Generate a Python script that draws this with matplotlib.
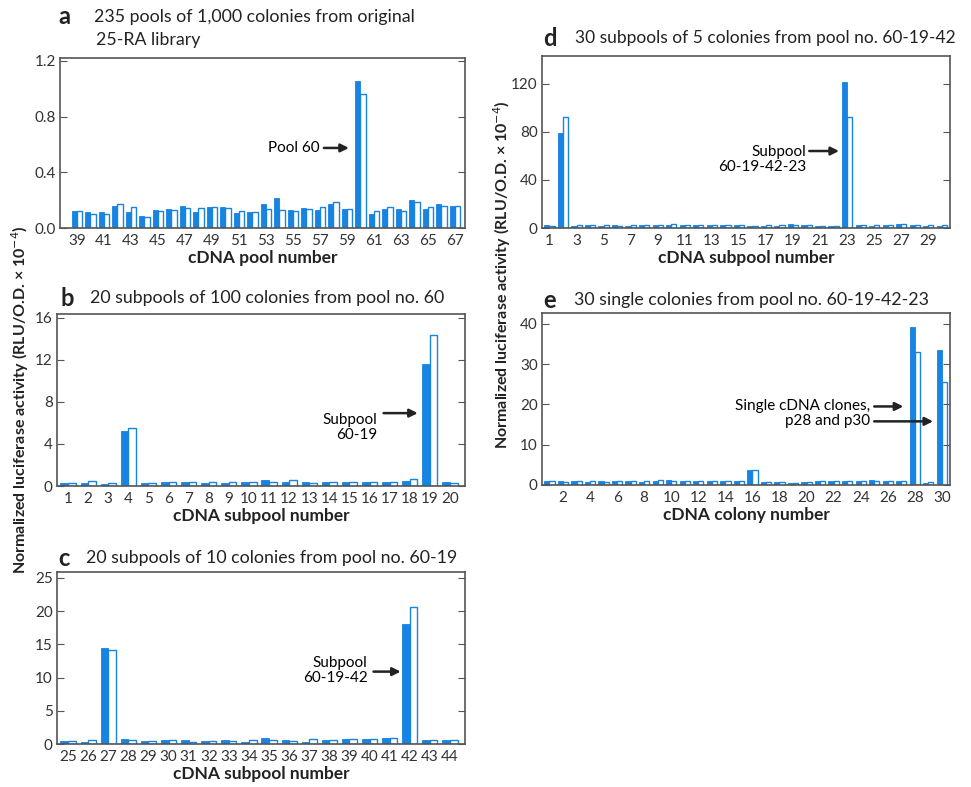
import numpy as np
import matplotlib
matplotlib.use('Agg')
import matplotlib.pyplot as plt

plt.rcParams['font.family'] = ['Lato', 'DejaVu Sans']

W, H = 971, 787
BLUE = '#1684e0'
SPINE = '#555555'

# ---- data (filled bar = first assay, open bar = repeat) ----
a_pools = list(range(39, 68))
a_filled = [0.125, 0.115, 0.115, 0.155, 0.115, 0.087, 0.13, 0.14, 0.155, 0.115,
            0.15, 0.15, 0.11, 0.115, 0.175, 0.215, 0.13, 0.145, 0.13, 0.175,
            0.14, 1.055, 0.10, 0.14, 0.14, 0.20, 0.135, 0.17, 0.155]
a_open = [0.12, 0.10, 0.10, 0.17, 0.15, 0.08, 0.125, 0.13, 0.145, 0.145,
          0.15, 0.145, 0.12, 0.115, 0.14, 0.13, 0.125, 0.135, 0.15, 0.19,
          0.135, 0.964, 0.12, 0.15, 0.12, 0.19, 0.15, 0.16, 0.155]

b_pools = list(range(1, 21))
b_filled = [0.3, 0.3, 0.2, 5.2, 0.3, 0.38, 0.38, 0.25, 0.25, 0.38,
            0.57, 0.38, 0.38, 0.38, 0.38, 0.38, 0.38, 0.45, 11.65, 0.38]
b_open = [0.3, 0.5, 0.3, 5.55, 0.3, 0.38, 0.38, 0.38, 0.38, 0.38,
          0.38, 0.57, 0.3, 0.38, 0.38, 0.38, 0.38, 0.64, 14.4, 0.3]

c_pools = list(range(25, 45))
c_filled = [0.5, 0.35, 14.5, 0.75, 0.45, 0.65, 0.65, 0.45, 0.55, 0.35,
            0.85, 0.65, 0.35, 0.65, 0.75, 0.75, 0.85, 18.1, 0.65, 0.65]
c_open = [0.45, 0.65, 14.2, 0.65, 0.45, 0.65, 0.35, 0.45, 0.45, 0.65,
          0.65, 0.45, 0.75, 0.65, 0.75, 0.75, 0.85, 20.7, 0.65, 0.65]

d_pools = list(range(1, 31))
d_filled = [2.2, 79, 1.8, 2.2, 2.0, 2.2, 1.8, 2.2, 2.4, 2.2,
            2.4, 2.2, 2.6, 2.2, 2.4, 2.0, 1.8, 2.0, 3.0, 2.2,
            2.0, 2.0, 121, 2.2, 2.0, 2.2, 3.6, 2.2, 2.0, 2.0]
d_open = [2.0, 92, 2.2, 2.4, 2.2, 2.0, 2.4, 2.2, 2.6, 3.6,
          2.2, 2.4, 2.4, 2.6, 2.6, 2.0, 2.2, 2.4, 2.6, 2.2,
          2.0, 2.0, 92, 2.2, 2.2, 2.4, 3.0, 2.4, 2.2, 2.2]

e_colonies = list(range(1, 31))
e_filled = [0.9, 0.9, 0.9, 0.8, 0.9, 0.9, 0.9, 0.8, 1.0, 1.2,
            1.0, 1.0, 1.1, 0.9, 0.9, 3.6, 0.7, 0.7, 0.6, 0.8,
            0.9, 0.9, 0.9, 1.1, 1.2, 0.9, 0.9, 39.2, 0.6, 33.6]
e_open = [0.9, 0.8, 0.9, 0.9, 0.8, 0.9, 0.9, 0.9, 1.3, 1.1,
          1.0, 1.0, 1.1, 1.0, 0.9, 3.6, 0.7, 0.7, 0.6, 0.8,
          0.9, 0.9, 0.9, 1.1, 1.1, 0.9, 1.0, 32.9, 0.8, 25.6]

fig = plt.figure(figsize=(W / 100, H / 100), dpi=100)


def add_ax(left, top, right, bottom):
    # axes box given in pixel coords of the reference
    return fig.add_axes([left / W, 1 - bottom / H, (right - left) / W, (bottom - top) / H])


def bar_panel(ax, x, filled, opened, xlim, ylim, yticks, ylabels, xtick_vals, xlabel):
    x = np.array(x, dtype=float)
    w = 0.38
    ax.bar(x - w / 2, filled, w, color=BLUE, edgecolor=BLUE, linewidth=0.6)
    ax.bar(x + w / 2, opened, w, color='white', edgecolor=BLUE, linewidth=1.0)
    ax.set_xlim(*xlim)
    ax.set_ylim(*ylim)
    ax.set_yticks(yticks)
    ax.set_yticklabels(ylabels)
    ax.set_xticks(xtick_vals)
    ax.set_xticklabels([str(v) for v in xtick_vals])
    ax.tick_params(axis='y', direction='in', length=5, width=0.8, color=SPINE,
                   right=True, labelsize=11, pad=3, labelcolor='#333333')
    ax.tick_params(axis='x', length=0, labelsize=11, pad=4, labelcolor='#333333')
    for s in ax.spines.values():
        s.set_color(SPINE)
        s.set_linewidth(1.2)
    ax.set_xlabel(xlabel, fontsize=12.5, fontweight='bold', labelpad=2, color='#222222')


def panel_title(letter, text, x_letter, x_text, y, size=12.8):
    fig.text(x_letter / W, 1 - y / H, letter, fontsize=17, fontweight='bold',
             va='center', color='#222222')
    fig.text(x_text / W, 1 - y / H, text, fontsize=size, va='center', color='#222222')


def arrow(ax, x0, x1, y):
    ax.annotate('', xy=(x1, y), xytext=(x0, y),
                arrowprops=dict(arrowstyle='-|>', color='#222222', lw=1.8,
                                mutation_scale=12, shrinkA=0, shrinkB=0))


# a
ax = add_ax(60, 58, 465, 228)
bar_panel(ax, a_pools, a_filled, a_open, (37.75, 67.75), (0, 1.221),
          [0, 0.4, 0.8, 1.2], ['0.0', '0.4', '0.8', '1.2'],
          list(range(39, 68, 2)), 'cDNA pool number')
ax.text(57.0, 0.575, 'Pool 60', ha='right', va='center', fontsize=11)
arrow(ax, 57.3, 59.15, 0.575)
panel_title('a', '235 pools of 1,000 colonies from original', 58, 94, 17)
fig.text(96 / W, 1 - 40 / H, '25-RA library', fontsize=12.8, va='center', color='#222222')

# b
ax = add_ax(57, 314, 465, 486)
bar_panel(ax, b_pools, b_filled, b_open, (0.45, 20.75), (0, 16.38),
          [0, 4, 8, 12, 16], ['0', '4', '8', '12', '16'],
          b_pools, 'cDNA subpool number')
ax.text(16.4, 6.94, 'Subpool\n60-19', ha='right', va='top', fontsize=11,
        multialignment='right', linespacing=1.1, transform=ax.transData)
arrow(ax, 16.7, 18.4, 6.94)
panel_title('b', '20 subpools of 100 colonies from pool no. 60', 60, 90, 298)

# c
ax = add_ax(57, 572, 465, 744)
bar_panel(ax, c_pools, c_filled, c_open, (24.45, 44.75), (0, 25.9),
          [0, 5, 10, 15, 20, 25], ['0', '5', '10', '15', '20', '25'],
          c_pools, 'cDNA subpool number')
ax.text(39.9, 11.0, 'Subpool\n60-19-42', ha='right', va='center', fontsize=11,
        multialignment='right', linespacing=1.1)
arrow(ax, 40.2, 41.55, 10.9)
panel_title('c', '20 subpools of 10 colonies from pool no. 60-19', 58, 86, 558)

# d
ax = add_ax(542, 56, 950, 228)
bar_panel(ax, d_pools, d_filled, d_open, (0.45, 30.6), (0, 143),
          [0, 40, 80, 120], ['0', '40', '80', '120'],
          list(range(1, 30, 2)), 'cDNA subpool number')
ax.text(20.0, 57, 'Subpool\n60-19-42-23', ha='right', va='center', fontsize=11,
        multialignment='right', linespacing=1.1)
arrow(ax, 20.2, 22.4, 64)
panel_title('d', '30 subpools of 5 colonies from pool no. 60-19-42', 543, 575, 38, size=12.5)

# e
ax = add_ax(542, 313, 950, 485)
bar_panel(ax, e_colonies, e_filled, e_open, (0.45, 30.6), (0, 42.7),
          [0, 10, 20, 30, 40], ['0', '10', '20', '30', '40'],
          list(range(2, 31, 2)), 'cDNA colony number')
ax.text(24.7, 17.8, 'Single cDNA clones,\np28 and p30', ha='right', va='center',
        fontsize=11, multialignment='right', linespacing=1.1)
arrow(ax, 25.0, 27.15, 19.5)
arrow(ax, 25.0, 29.35, 15.8)
panel_title('e', '30 single colonies from pool no. 60-19-42-23', 543, 574, 300)

# shared y labels
ylab = 'Normalized luciferase activity (RLU/O.D. × 10$^{-4}$)'
fig.text(20 / W, 1 - 400 / H, ylab, rotation=90, ha='center', va='center',
         fontsize=11.5, fontweight='bold', color='#222222')
fig.text(502 / W, 1 - 275 / H, ylab, rotation=90, ha='center', va='center',
         fontsize=11.5, fontweight='bold', color='#222222')

plt.savefig('out.png', dpi=100)
